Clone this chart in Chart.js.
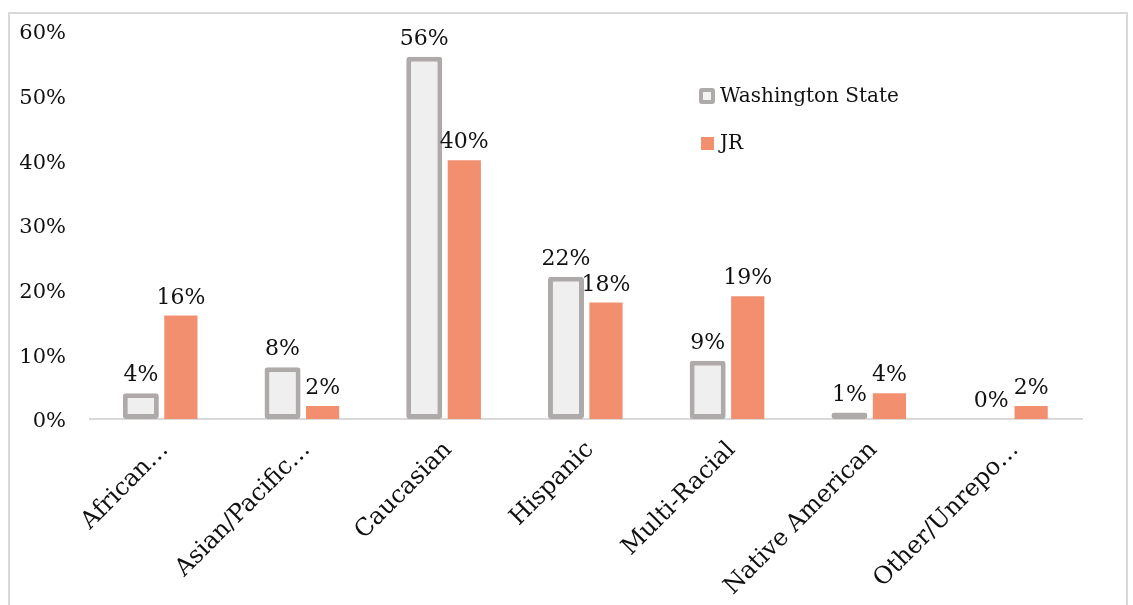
<!DOCTYPE html>
<html>
<head>
<meta charset="utf-8">
<script src="https://cdn.jsdelivr.net/npm/chart.js@4.4.0/dist/chart.umd.min.js"></script>
<style>
  body { margin: 0; background: #fff; }
  #frame { position: absolute; left: 8px; top: 12px; width: 1116px; height: 600px; border: 2px solid #d9d9d9; }
  #wrap { position: absolute; left: 0; top: 0; width: 1133px; height: 605px; }
</style>
</head>
<body>
<div id="frame"></div>
<div id="wrap"><canvas id="mycanvas" width="1133" height="605"></canvas></div>
<script>
var categories = ["African…", "Asian/Pacific…", "Caucasian", "Hispanic", "Multi-Racial", "Native American", "Other/Unrepo…"];
var waValues = [4, 8, 56, 22, 9, 1, 0];
var jrValues = [16, 2, 40, 18, 19, 4, 2];
var yTicks = [0, 10, 20, 30, 40, 50, 60];

var serif = "'DejaVu Serif', serif";

// value labels above each bar
var valueLabels = {
	id: 'valueLabels',
	afterDatasetsDraw: function(chart) {
		var ctx = chart.ctx;
		ctx.save();
		ctx.font = "22px " + serif;
		ctx.fillStyle = "#111";
		ctx.textAlign = "center";
		ctx.textBaseline = "alphabetic";
		chart.data.datasets.forEach(function(ds, i) {
			var meta = chart.getDatasetMeta(i);
			meta.data.forEach(function(bar, j) {
				ctx.fillText(ds.data[j] + "%", bar.x, bar.y - 12);
			});
		});
		ctx.restore();
	}
};

// legend drawn inside the plot, top right
var insideLegend = {
	id: 'insideLegend',
	afterDraw: function(chart) {
		var ctx = chart.ctx;
		var a = chart.chartArea;
		var x = a.left + 609, y = a.top + 65;
		ctx.save();
		ctx.font = "20px " + serif;
		ctx.textBaseline = "middle";
		// Washington State marker
		ctx.fillStyle = "#aeaaaa";
		ctx.beginPath();
		ctx.roundRect(x, y - 8, 16, 16, 3);
		ctx.fill();
		ctx.fillStyle = "#f2f2f2";
		ctx.fillRect(x + 4, y - 4, 8, 8);
		ctx.fillStyle = "#111";
		ctx.fillText("Washington State", x + 21, y + 1);
		// JR marker
		ctx.fillStyle = "#f28f6f";
		ctx.fillRect(x + 2, y + 41, 13, 13);
		ctx.fillStyle = "#111";
		ctx.fillText("JR", x + 21, y + 48);
		ctx.restore();
	}
};

var chartdata = {
	labels: categories,
	datasets: [
		{
			label: "Washington State",
			backgroundColor: "#efefef",
			borderColor: "#aeaaaa",
			borderWidth: 5,
			borderRadius: 3,
			borderSkipped: false,
			barPercentage: 0.9,
			categoryPercentage: 0.565,
			data: waValues
		},
		{
			label: "JR",
			backgroundColor: "#f28f6f",
			borderWidth: 0,
			barPercentage: 0.83,
			categoryPercentage: 0.565,
			data: jrValues
		}
	]
};

var ctx = document.getElementById("mycanvas");

var BarGraph = new Chart(ctx, {
	type: 'bar',
	data: chartdata,
	plugins: [valueLabels, insideLegend],
	options: {
		responsive: false,
		animation: false,
		layout: { padding: { left: 14, top: 31, right: 51, bottom: 0 } },
		plugins: {
			legend: { display: false },
			tooltip: { enabled: false }
		},
		scales: {
			x: {
				grid: { display: false, drawTicks: false },
				border: { display: true, color: "#d9d9d9", width: 2 },
				ticks: {
					color: "#111",
					font: { family: serif, size: 24 },
					minRotation: 45,
					maxRotation: 45,
					padding: 17,
					labelOffset: 4,
					autoSkip: false
				},
				afterFit: function(scale) { scale.height = 186; }
			},
			y: {
				min: 0,
				max: 60,
				grid: { display: false, drawTicks: true, tickLength: 16 },
				border: { display: false },
				afterBuildTicks: function(scale) {
					scale.ticks = yTicks.map(function(v) { return { value: v }; });
				},
				ticks: {
					color: "#111",
					font: { family: serif, size: 21 },
					padding: 8,
					labelOffset: 3,
					callback: function(v) { return v + "%"; }
				},
				afterFit: function(scale) { scale.width = 76; }
			}
		}
	}
});
</script>
</body>
</html>
